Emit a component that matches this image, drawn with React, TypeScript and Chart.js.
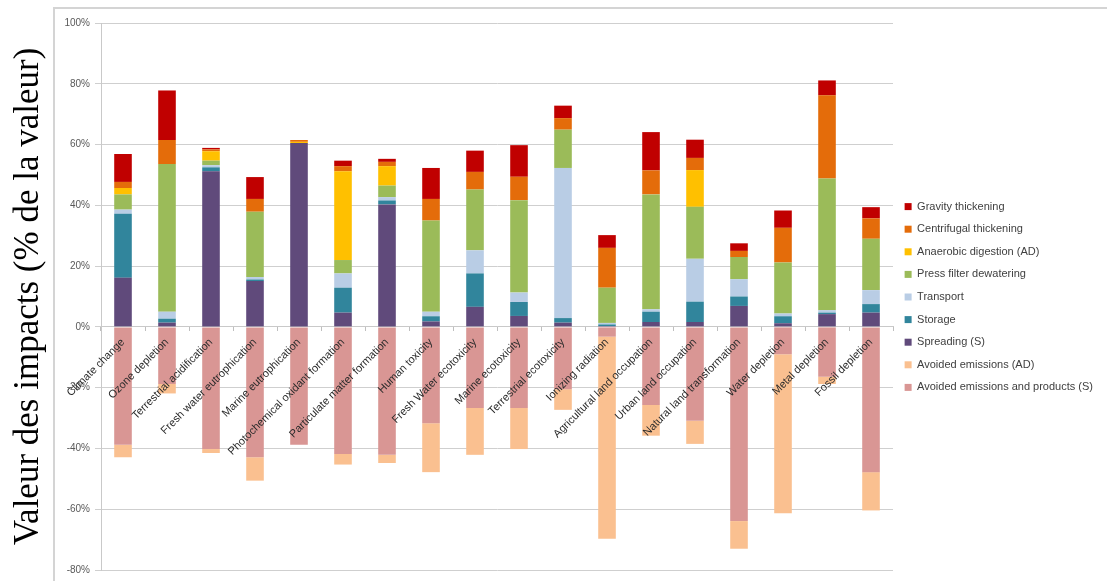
import React, { useEffect, useRef } from "react";
import { Chart, registerables } from "chart.js";

Chart.register(...registerables);

const categories = [
  "Climate change",
  "Ozone depletion",
  "Terrestrial acidification",
  "Fresh water eutrophication",
  "Marine eutrophication",
  "Photochemical oxidant formation",
  "Particulate matter formation",
  "Human toxicity",
  "Fresh Water ecotoxicity",
  "Marine ecotoxicity",
  "Terrestrial ecotoxicity",
  "Ionizing radiation",
  "Agricultural land occupation",
  "Urban land occupation",
  "Natural land transformation",
  "Water depletion",
  "Metal depletion",
  "Fossil depletion",
];

const avoidedProductsS = [-38.8, -18.8, -40.2, -42.9, -38.8, -41.8, -42.1, -31.7, -26.7, -26.7, -20.5, -3.2, -25.7, -30.9, -63.9, -9.0, -16.4, -47.8];
const avoidedEmissionsAD = [-4.1, -3.1, -1.3, -7.7, 0, -3.5, -2.7, -16.1, -15.4, -13.5, -6.8, -66.5, -10.1, -7.6, -9.1, -52.3, -2.4, -12.6];
const spreading = [16.2, 1.4, 51.2, 15.1, 60.5, 4.7, 40.3, 1.8, 6.6, 3.6, 1.4, 0.3, 1.6, 1.6, 6.9, 1.2, 4.2, 4.7];
const storage = [21.0, 1.3, 1.3, 0.5, 0, 8.2, 1.3, 1.7, 11.0, 4.6, 1.5, 0.5, 3.4, 6.7, 3.1, 2.3, 0.5, 2.8];
const transport = [1.4, 2.3, 0.7, 0.8, 0, 4.7, 1.1, 1.5, 7.6, 3.1, 49.4, 0.5, 0.8, 14.1, 5.7, 0.9, 0.8, 4.6];
const pressFilter = [5.0, 48.6, 1.5, 21.5, 0, 4.4, 3.8, 30.0, 20.0, 30.4, 12.6, 11.6, 37.8, 17.1, 7.3, 16.8, 43.3, 16.9];
const anaerobicDigestion = [2.1, 0, 3.1, 0, 0.4, 29.2, 6.4, 0, 0, 0, 0, 0, 0, 12.1, 0, 0, 0, 0];
const centrifugal = [2.0, 7.9, 0.6, 4.2, 0.6, 1.7, 1.4, 7.1, 5.8, 7.7, 3.8, 13.1, 7.9, 4.0, 2.0, 11.4, 27.4, 6.7];
const gravity = [9.2, 16.3, 0.5, 7.2, 0, 1.8, 1.0, 10.2, 7.0, 10.4, 4.1, 4.2, 12.6, 6.0, 2.5, 5.7, 4.9, 3.7];

const yMin = -80;
const yMax = 100;
const yStep = 20;
const yTitle = "Valeur des impacts (% de la valeur)";

export default function App() {
  const ref = useRef<HTMLCanvasElement>(null);

  useEffect(() => {
    if (!ref.current) return;
    const framePlugin = {
      id: "frame",
      beforeDraw(chart: any) {
        const ctx = chart.ctx;
        ctx.save();
        ctx.strokeStyle = "#d4d4d4";
        ctx.lineWidth = 2;
        ctx.beginPath();
        ctx.moveTo(54, 581);
        ctx.lineTo(54, 8);
        ctx.lineTo(1107, 8);
        ctx.stroke();
        ctx.restore();
      },
    };

    const ds = (label: string, data: number[], color: string) => ({
      label,
      data,
      backgroundColor: color,
      borderWidth: 0,
      categoryPercentage: 1,
      barPercentage: 0.4,
    });

    const chart = new Chart(ref.current, {
      type: "bar",
      data: {
        labels: categories,
        datasets: [
          ds("Avoided emissions and products (S)", avoidedProductsS, "#D99694"),
          ds("Avoided emissions (AD)", avoidedEmissionsAD, "#FAC090"),
          ds("Spreading (S)", spreading, "#604A7B"),
          ds("Storage", storage, "#31859C"),
          ds("Transport", transport, "#B9CDE5"),
          ds("Press filter dewatering", pressFilter, "#9BBB59"),
          ds("Anaerobic digestion (AD)", anaerobicDigestion, "#FFC000"),
          ds("Centrifugal thickening", centrifugal, "#E46C0A"),
          ds("Gravity thickening", gravity, "#C00000"),
        ],
      },
      options: {
        responsive: false,
        animation: false,
        devicePixelRatio: 1,
        layout: { padding: { left: 0, right: 4, top: 23, bottom: 10 } },
        plugins: {
          tooltip: { enabled: false },
          legend: {
            position: "right",
            reverse: true,
            maxWidth: 300,
            labels: {
              boxWidth: 7,
              boxHeight: 7,
              padding: 11.6,
              color: "#404040",
              font: { family: "'Liberation Sans', Arial, sans-serif", size: 11 },
            },
          },
        },
        scales: {
          x: {
            stacked: true,
            position: { y: 0 } as any,
            grid: {
              display: true,
              drawOnChartArea: false,
              drawTicks: true,
              tickLength: 4,
              color: "#bfbfbf",
              offset: true,
            },
            border: { display: true, color: "#c9c9c9" },
            ticks: {
              z: 1,
              autoSkip: false,
              minRotation: 45,
              maxRotation: 45,
              padding: 5,
              color: "#2b2b2b",
              font: { family: "'Liberation Sans', Arial, sans-serif", size: 11 },
            },
          },
          y: {
            stacked: true,
            min: yMin,
            max: yMax,
            position: "left",
            afterFit: (scale: any) => {
              scale.width = 101;
            },
            grid: { color: "#cfcfcf", tickLength: 6 },
            border: { display: true, color: "#c9c9c9" },
            ticks: {
              stepSize: yStep,
              padding: 5,
              color: "#595959",
              font: { family: "'Liberation Sans', Arial, sans-serif", size: 10 },
              callback: (v: any) => `${v}%`,
            },
            title: {
              display: true,
              text: yTitle,
              color: "#000000",
              padding: { top: 8, bottom: 0 },
              font: { family: "'Liberation Serif', 'Times New Roman', serif", size: 35, weight: "normal" },
            },
          },
        },
      },
      plugins: [framePlugin],
    } as any);

    return () => chart.destroy();
  }, []);

  return (
    <div style={{ position: "fixed", left: 0, top: 0, width: 1107, height: 581, background: "#ffffff" }}>
      <canvas ref={ref} width={1107} height={581} />
    </div>
  );
}
